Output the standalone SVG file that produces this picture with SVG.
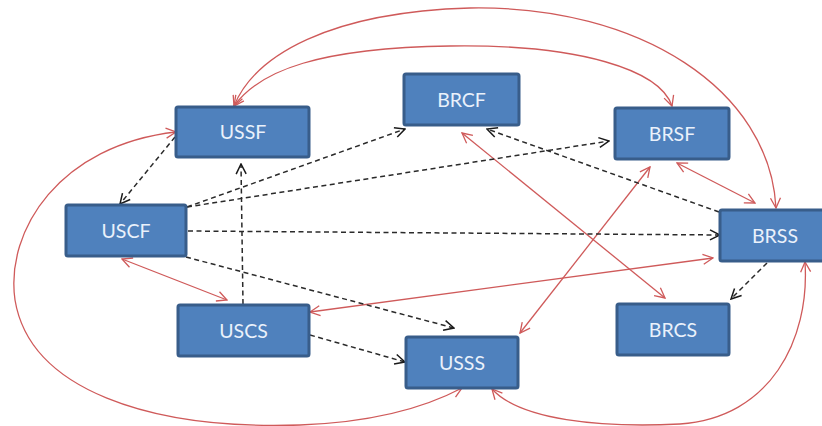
<svg xmlns="http://www.w3.org/2000/svg" width="822" height="426" viewBox="0 0 822 426">
<style>
.box{fill:#4F81BD;stroke:#385D8A;stroke-width:3}
.lbl{font-family:Lato,"Liberation Sans",sans-serif;font-size:19.5px;fill:#EAF1FB;text-anchor:middle}
.red{fill:none;stroke:#CF5A5A;stroke-width:1.3;marker-start:url(#ra);marker-end:url(#ra)}
.dash{fill:none;stroke:#2a2a2a;stroke-width:1.5;stroke-dasharray:5 3.5;marker-end:url(#ba)}
</style>
<defs>
<marker id="ra" viewBox="0 0 12 12" refX="11" refY="6" markerWidth="12" markerHeight="12" markerUnits="userSpaceOnUse" orient="auto-start-reverse">
<path d="M1,1 L11,6 L1,11" fill="none" stroke="#CF5A5A" stroke-width="1.3"/>
</marker>
<marker id="ba" viewBox="0 0 12 12" refX="11" refY="6" markerWidth="12" markerHeight="12" markerUnits="userSpaceOnUse" orient="auto">
<path d="M1,1 L11,6 L1,11" fill="none" stroke="#1a1a1a" stroke-width="1.5"/>
</marker>
</defs>
<rect width="822" height="426" fill="#ffffff"/>
<g id="connectors">
<path class="red" d="M234,106 C255,55 330,12 470,8 C640,5 770,90 776,208"/>
<path class="red" d="M234,106 C260,70 320,48 450,46 C580,44 660,70 672,106"/>
<path class="red" d="M176,132 C60,145 5,230 15,300 C30,390 150,430 300,425 C380,422 430,405 462,388"/>
<path class="red" d="M492,389 C520,420 600,428 680,424 C770,418 810,340 805,262"/>
<path class="red" d="M122,259 L227,300"/>
<path class="red" d="M310,312 L713,258"/>
<path class="red" d="M462,133 L665,298"/>
<path class="red" d="M650,167 L520,333"/>
<path class="red" d="M677,163 L755,203"/>
<path class="dash" d="M175,137 L120,204"/>
<path class="dash" d="M187,207 L405,129"/>
<path class="dash" d="M187,207 L609,141"/>
<path class="dash" d="M188,231 L720,235"/>
<path class="dash" d="M186,257 L454,328"/>
<path class="dash" d="M243,304 L241,164"/>
<path class="dash" d="M310,335 L405,362"/>
<path class="dash" d="M719,212 L487,129"/>
<path class="dash" d="M767,263 L731,299"/>
</g>
<g id="USSF"><rect class="box" x="176" y="107" width="133" height="50" rx="2"/><text class="lbl" x="243" y="139">USSF</text></g>
<g id="BRCF"><rect class="box" x="404" y="74" width="115" height="51" rx="2"/><text class="lbl" x="461.5" y="106.5">BRCF</text></g>
<g id="BRSF"><rect class="box" x="615" y="108" width="114" height="51" rx="2"/><text class="lbl" x="672" y="140.5">BRSF</text></g>
<g id="BRSS"><rect class="box" x="720" y="210" width="110" height="51" rx="2"/><text class="lbl" x="775" y="242.5">BRSS</text></g>
<g id="USCF"><rect class="box" x="66" y="205" width="120" height="51" rx="2"/><text class="lbl" x="126" y="237.5">USCF</text></g>
<g id="USCS"><rect class="box" x="178" y="305" width="131" height="51" rx="2"/><text class="lbl" x="243.5" y="337.5">USCS</text></g>
<g id="USSS"><rect class="box" x="406" y="337" width="112" height="51" rx="2"/><text class="lbl" x="462" y="369.5">USSS</text></g>
<g id="BRCS"><rect class="box" x="617" y="304" width="112" height="51" rx="2"/><text class="lbl" x="673" y="336.5">BRCS</text></g>
</svg>
